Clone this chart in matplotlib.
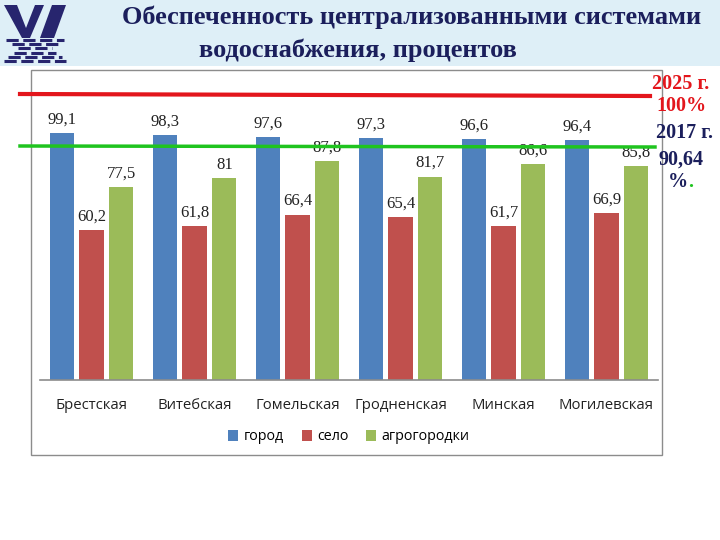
import matplotlib
matplotlib.use('Agg')
import matplotlib.pyplot as plt
from matplotlib.patches import Rectangle, Polygon
from matplotlib.lines import Line2D
import numpy as np

# данные
regions = ['Брестская', 'Витебская', 'Гомельская', 'Гродненская', 'Минская', 'Могилевская']
city = [99.1, 98.3, 97.6, 97.3, 96.6, 96.4]
village = [60.2, 61.8, 66.4, 65.4, 61.7, 66.9]
agro = [77.5, 81, 87.8, 81.7, 86.6, 85.8]
series_names = ['город', 'село', 'агрогородки']
series_colors = ['#4F81BD', '#C0504D', '#9BBB59']

W, H = 720, 540
fig = plt.figure(figsize=(7.2, 5.4), dpi=100)
fig.patch.set_facecolor('white')


def fx(px):
    return px / W


def fy(py):
    return 1 - py / H


# фон заголовка
fig.patches.append(Rectangle((0, fy(66)), 1, 66 / H, transform=fig.transFigure,
                             facecolor='#deeff7', edgecolor='none', zorder=-2))

# рамка диаграммы
fig.patches.append(Rectangle((fx(31), fy(455)), fx(631), 385 / H, transform=fig.transFigure,
                             facecolor='white', edgecolor='#8c8c8c', linewidth=1.0, zorder=-1))

# логотип (упрощённо)
navy = '#27256e'
logo = [
    [(4, 5), (17, 5), (26, 28), (35, 5), (44, 5), (30, 38), (22, 38)],
    [(40, 38), (52, 5), (66, 5), (54, 38)],
]
for poly in logo:
    fig.patches.append(Polygon([(fx(a), fy(b)) for a, b in poly], closed=True,
                               transform=fig.transFigure, facecolor=navy, edgecolor='none', zorder=3))
stripes = [(40, 6, 64), (44, 12, 58), (48, 18, 52), (53, 14, 56), (57, 8, 62), (61, 4, 66)]
for yy, x0, x1 in stripes:
    fig.lines.append(Line2D([fx(x0), fx(x1)], [fy(yy), fy(yy)], transform=fig.transFigure,
                            color=navy, linewidth=2.2, dashes=(4, 1.5), zorder=3))

# заголовок
title_kw = dict(family='Liberation Serif', fontweight='bold', color='#1b1f5c', fontsize=19)
fig.text(fx(412), fy(17), 'Обеспеченность централизованными системами', ha='center', va='center', **title_kw)
fig.text(fx(358), fy(50), 'водоснабжения, процентов', ha='center', va='center', **title_kw)

# оси
ax = fig.add_axes([fx(40), fy(380), fx(618), 310 / H])
ax.set_zorder(1)
ax.set_facecolor('none')
x = np.arange(len(regions))
step = 0.29
width = 0.235
for i, (vals, name, col) in enumerate(zip([city, village, agro], series_names, series_colors)):
    bars = ax.bar(x + (i - 1) * step, vals, width, color=col, label=name, zorder=2)
    for b, v in zip(bars, vals):
        ax.annotate(f'{v:g}'.replace('.', ','), (b.get_x() + b.get_width() / 2, v),
                    xytext=(0, 4), textcoords='offset points', ha='center', va='bottom',
                    family='Liberation Serif', fontsize=12, color='#222222')

ax.set_xlim(-0.5, len(regions) - 0.5)
ax.set_ylim(0, 124.5)
ax.set_yticks([])
ax.set_xticks(x)
ax.set_xticklabels(regions, family='Open Sans', fontsize=10.7, color='#222222')
ax.tick_params(axis='x', length=0, pad=13)
for s in ['top', 'left', 'right']:
    ax.spines[s].set_visible(False)
ax.spines['bottom'].set_color('#8c8c8c')
ax.spines['bottom'].set_linewidth(1.2)

leg = ax.legend(loc='center', bbox_to_anchor=(fx(349), fy(437)), bbox_transform=fig.transFigure,
                ncol=3, frameon=False, handlelength=0.7, handleheight=0.7, handletextpad=0.4,
                columnspacing=1.2, prop={'family': 'Open Sans', 'size': 10.3})

# целевые линии
fig.lines.append(Line2D([fx(20), fx(650)], [fy(94), fy(96)], transform=fig.transFigure,
                        color='#e3161c', linewidth=3.0, zorder=5))
fig.lines.append(Line2D([fx(20), fx(655)], [fy(146), fy(147)], transform=fig.transFigure,
                        color='#1fc41f', linewidth=2.5, zorder=5))

# подписи справа
rk = dict(family='Liberation Serif', fontweight='bold', fontsize=14.5, ha='center', va='center')
fig.text(fx(681), fy(84), '2025 г.', color='#e3161c', **rk)
fig.text(fx(681), fy(106), '100%', color='#e3161c', **rk)
fig.text(fx(684), fy(133), '2017 г.', color='#1b1f5c', **rk)
fig.text(fx(681), fy(160), '90,64', color='#1b1f5c', **rk)
fig.text(fx(678), fy(182), '%', color='#1b1f5c', **rk)
fig.text(fx(691), fy(182), '.', color='#1fc41f', **rk)

fig.savefig('out.png', dpi=100)
